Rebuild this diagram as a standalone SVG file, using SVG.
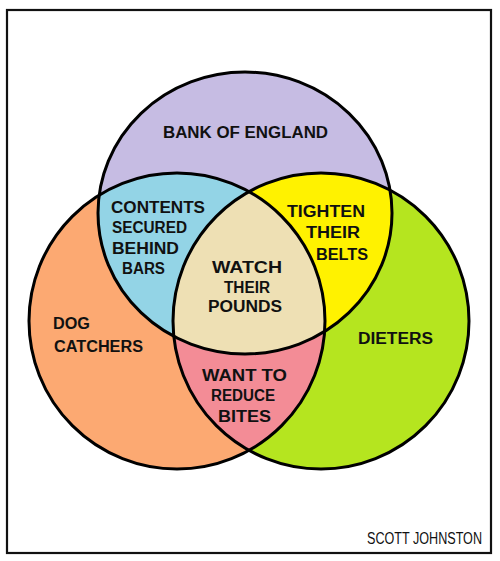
<svg xmlns="http://www.w3.org/2000/svg" width="500" height="561" viewBox="0 0 500 561">
<style>
.lbl{font-family:"Liberation Sans",Arial,sans-serif;font-weight:bold;font-size:16px;fill:#111}
.edge{fill:none;stroke:#000;stroke-width:3}
</style>
<defs>
<ellipse id="cTop" cx="245" cy="213" rx="147" ry="141"/>
<circle id="cLeft" cx="177" cy="321" r="148"/>
<circle id="cRight" cx="321" cy="321" r="148"/>
<clipPath id="clipTop"><use href="#cTop"/></clipPath>
<clipPath id="clipLeft"><use href="#cLeft"/></clipPath>
<clipPath id="clipRight"><use href="#cRight"/></clipPath>
</defs>
<rect x="0" y="0" width="500" height="561" fill="#fff"/>
<rect x="7" y="10" width="484" height="543" fill="#fff" stroke="#111" stroke-width="2.2"/>
<g id="fills">
<use href="#cTop" fill="#c6bce3"/>
<use href="#cLeft" fill="#fca972"/>
<use href="#cRight" fill="#b5e51f"/>
<use href="#cLeft" fill="#93d4e6" clip-path="url(#clipTop)"/>
<use href="#cRight" fill="#fff200" clip-path="url(#clipTop)"/>
<use href="#cRight" fill="#f38c96" clip-path="url(#clipLeft)"/>
<g clip-path="url(#clipTop)"><use href="#cRight" fill="#eee0b4" clip-path="url(#clipLeft)"/></g>
</g>
<g id="outlines">
<use href="#cTop" class="edge"/>
<use href="#cLeft" class="edge"/>
<use href="#cRight" class="edge"/>
</g>
<g id="bank-of-england"><text class="lbl" x="163" y="138" textLength="165" lengthAdjust="spacingAndGlyphs">BANK OF ENGLAND</text></g>
<g id="dog-catchers">
<text class="lbl" x="53" y="329" textLength="37" lengthAdjust="spacingAndGlyphs">DOG</text>
<text class="lbl" x="54" y="352" textLength="89" lengthAdjust="spacingAndGlyphs">CATCHERS</text>
</g>
<g id="dieters"><text class="lbl" x="358" y="344" textLength="75" lengthAdjust="spacingAndGlyphs">DIETERS</text></g>
<g id="contents-secured">
<text class="lbl" x="111" y="213" textLength="94" lengthAdjust="spacingAndGlyphs">CONTENTS</text>
<text class="lbl" x="112" y="233" textLength="75" lengthAdjust="spacingAndGlyphs">SECURED</text>
<text class="lbl" x="112" y="254" textLength="67" lengthAdjust="spacingAndGlyphs">BEHIND</text>
<text class="lbl" x="122" y="274" textLength="43" lengthAdjust="spacingAndGlyphs">BARS</text>
</g>
<g id="tighten-belts">
<text class="lbl" x="287" y="217" textLength="78" lengthAdjust="spacingAndGlyphs">TIGHTEN</text>
<text class="lbl" x="306" y="238" textLength="54" lengthAdjust="spacingAndGlyphs">THEIR</text>
<text class="lbl" x="316" y="260" textLength="52" lengthAdjust="spacingAndGlyphs">BELTS</text>
</g>
<g id="watch-pounds">
<text class="lbl" x="212" y="273" textLength="70" lengthAdjust="spacingAndGlyphs">WATCH</text>
<text class="lbl" x="224" y="293" textLength="46" lengthAdjust="spacingAndGlyphs">THEIR</text>
<text class="lbl" x="208" y="312" textLength="74" lengthAdjust="spacingAndGlyphs">POUNDS</text>
</g>
<g id="reduce-bites">
<text class="lbl" x="202" y="381" textLength="85" lengthAdjust="spacingAndGlyphs">WANT TO</text>
<text class="lbl" x="211" y="401" textLength="64" lengthAdjust="spacingAndGlyphs">REDUCE</text>
<text class="lbl" x="218" y="422" textLength="53" lengthAdjust="spacingAndGlyphs">BITES</text>
</g>
<g id="credit" transform="translate(367,544) scale(1,1.3)"><text x="0" y="0" font-family="'Liberation Sans',Arial,sans-serif" font-size="12.6" fill="#111">SCOTT JOHNSTON</text></g>
</svg>
